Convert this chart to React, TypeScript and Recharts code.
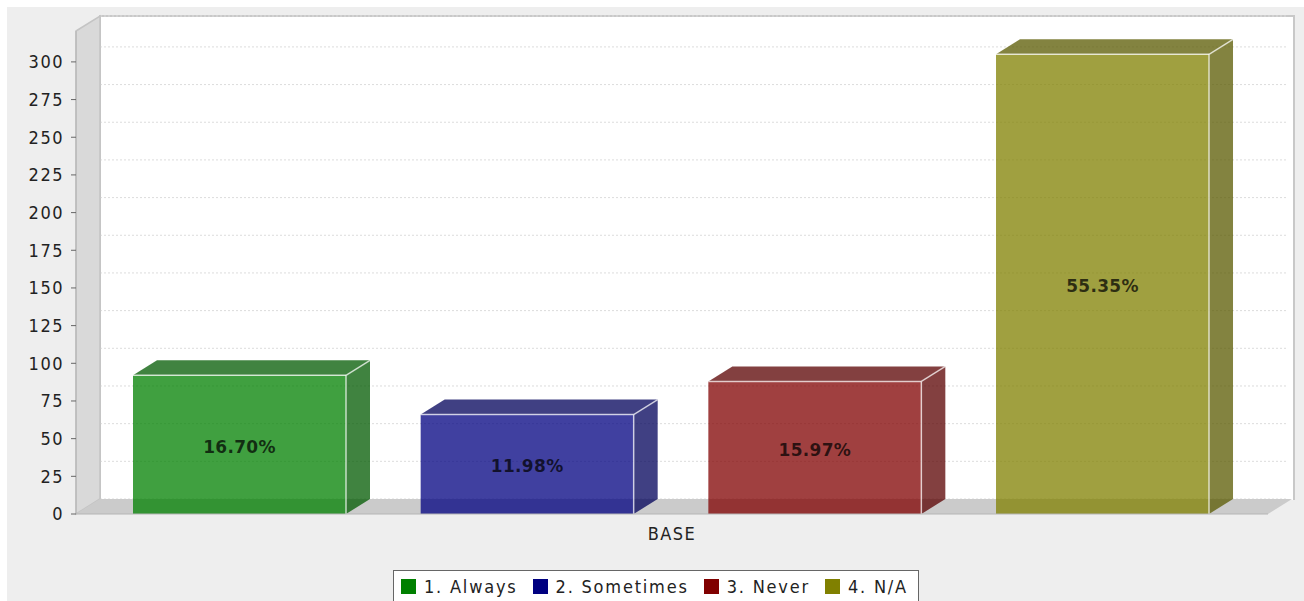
import { BarChart, Bar, XAxis, YAxis, CartesianGrid, Legend, LabelList, usePlotArea } from 'recharts';

const categories = ['BASE'];
const seriesNames = ['1. Always', '2. Sometimes', '3. Never', '4. N/A'];
const seriesValues = [92, 66, 88, 305];
const percentLabels = ['16.70%', '11.98%', '15.97%', '55.35%'];
const seriesColors = ['#008000', '#000080', '#800000', '#808000'];
const darkColors = ['#005900', '#000059', '#590000', '#595900'];
const yTicks = [0, 25, 50, 75, 100, 125, 150, 175, 200, 225, 250, 275, 300];

const DX = 24;
const DY = 15;
const FONT = '"DejaVu Sans Condensed", "DejaVu Sans", sans-serif';
const LABEL_FONT = '"DejaVu Sans", sans-serif';

const data = categories.map((name) => {
  const row: Record<string, string | number> = { name };
  seriesNames.forEach((s, i) => {
    row[s] = seriesValues[i];
  });
  return row;
});

// side wall and floor of the fake 3D plot, the back wall is a div behind the chart
function Walls() {
  const plot = usePlotArea();
  if (!plot) return null;
  const l = plot.x;
  const t = plot.y;
  const r = plot.x + plot.width;
  const b = plot.y + plot.height;
  return (
    <g>
      <polygon
        points={`${l},${t} ${l + DX},${t - DY} ${l + DX},${b - DY} ${l},${b}`}
        fill="#d9d9d9"
        stroke="#c4c4c4"
        strokeWidth={1.5}
      />
      <polygon
        points={`${l},${b} ${l + DX},${b - DY} ${r + DX},${b - DY} ${r},${b}`}
        fill="#cbcbcb"
      />
    </g>
  );
}

function Box3D(props: any) {
  const { x, y, width, height, index } = props;
  const fill = seriesColors[index];
  const dark = darkColors[index];
  const r = x + width;
  const b = y + height;
  const edge = { stroke: '#ffffff', strokeOpacity: 0.7, strokeWidth: 1.5 };
  return (
    <g>
      <polygon
        points={`${x},${y} ${x + DX},${y - DY} ${r + DX},${y - DY} ${r},${y}`}
        fill={dark}
        fillOpacity={0.75}
      />
      <polygon
        points={`${r},${y} ${r + DX},${y - DY} ${r + DX},${b - DY} ${r},${b}`}
        fill={dark}
        fillOpacity={0.75}
      />
      <rect x={x} y={y} width={width} height={height} fill={fill} fillOpacity={0.75} />
      <line x1={x} y1={y} x2={r} y2={y} {...edge} />
      <line x1={r} y1={y} x2={r} y2={b} {...edge} />
      <line x1={r} y1={y} x2={r + DX} y2={y - DY} {...edge} />
    </g>
  );
}

function GridLine(props: any) {
  const { x1, x2, y1, y2 } = props;
  return (
    <line
      x1={x1 + DX}
      x2={x2 + DX - 4}
      y1={y1 - DY}
      y2={y2 - DY}
      stroke="#dcdcdc"
      strokeDasharray="2 2"
    />
  );
}

function LegendBox() {
  return (
    <div
      style={{
        display: 'flex',
        alignItems: 'center',
        height: 31,
        paddingLeft: 7,
        fontFamily: FONT,
        fontSize: 18,
        letterSpacing: 1.8,
        color: '#222',
        whiteSpace: 'nowrap',
      }}
    >
      {seriesNames.map((s, i) => (
        <span key={s} style={{ display: 'flex', alignItems: 'center', marginRight: 15 }}>
          <span style={{ width: 15, height: 15, background: seriesColors[i], marginRight: 8 }} />
          {s}
        </span>
      ))}
    </div>
  );
}

export default function App() {
  const tickStyle = { fontFamily: FONT, fontSize: 18, letterSpacing: 1.5, fill: '#222' };
  return (
    <div style={{ position: 'absolute', left: 0, top: 0, width: 1304, height: 601, overflow: 'hidden', background: '#fff' }}>
      <div style={{ position: 'absolute', left: 7, top: 7, width: 1297, height: 594, background: '#eeeeee' }} />
      <div style={{ position: 'absolute', left: 99, top: 15, width: 1192, height: 483, background: '#fff', border: '2px solid #c8c8c8', borderBottom: 'none' }} />
      <BarChart
        width={1304}
        height={601}
        data={data}
        margin={{ top: 31, right: 36, left: 0, bottom: 0 }}
        barSize={213}
        barGap={74.67}
      >
        <CartesianGrid vertical={false} horizontal={GridLine} />
        <Walls />
        <XAxis
          dataKey="name"
          height={47}
          padding={{ left: 0, right: 2 }}
          tick={tickStyle}
          tickLine={false}
          axisLine={{ stroke: '#b4b4b4' }}
          tickMargin={7}
          dx={1}
        />
        <YAxis
          width={76}
          domain={[0, 320.5]}
          ticks={yTicks}
          interval={0}
          allowDataOverflow
          tick={tickStyle}
          tickSize={5}
          tickMargin={7}
          tickLine={{ stroke: '#666' }}
          axisLine={{ stroke: '#b4b4b4' }}
        />
        {seriesNames.map((s, i) => (
          <Bar key={s} dataKey={s} name={s} fill={seriesColors[i]} shape={(p: any) => <Box3D {...p} index={i} />} isAnimationActive={false}>
            <LabelList
              dataKey={s}
              position="center"
              dy={2}
              formatter={() => percentLabels[i]}
              style={{ fontFamily: LABEL_FONT, fontWeight: 700, fontSize: 17, letterSpacing: 0.3, fill: '#000', fillOpacity: 0.72 }}
            />
          </Bar>
        ))}
        <Legend
          content={<LegendBox />}
          wrapperStyle={{ left: 393, top: 570, width: 526, height: 40, bottom: 'auto', boxSizing: 'border-box', border: '1px solid #666', background: '#fff' }}
        />
      </BarChart>
    </div>
  );
}
